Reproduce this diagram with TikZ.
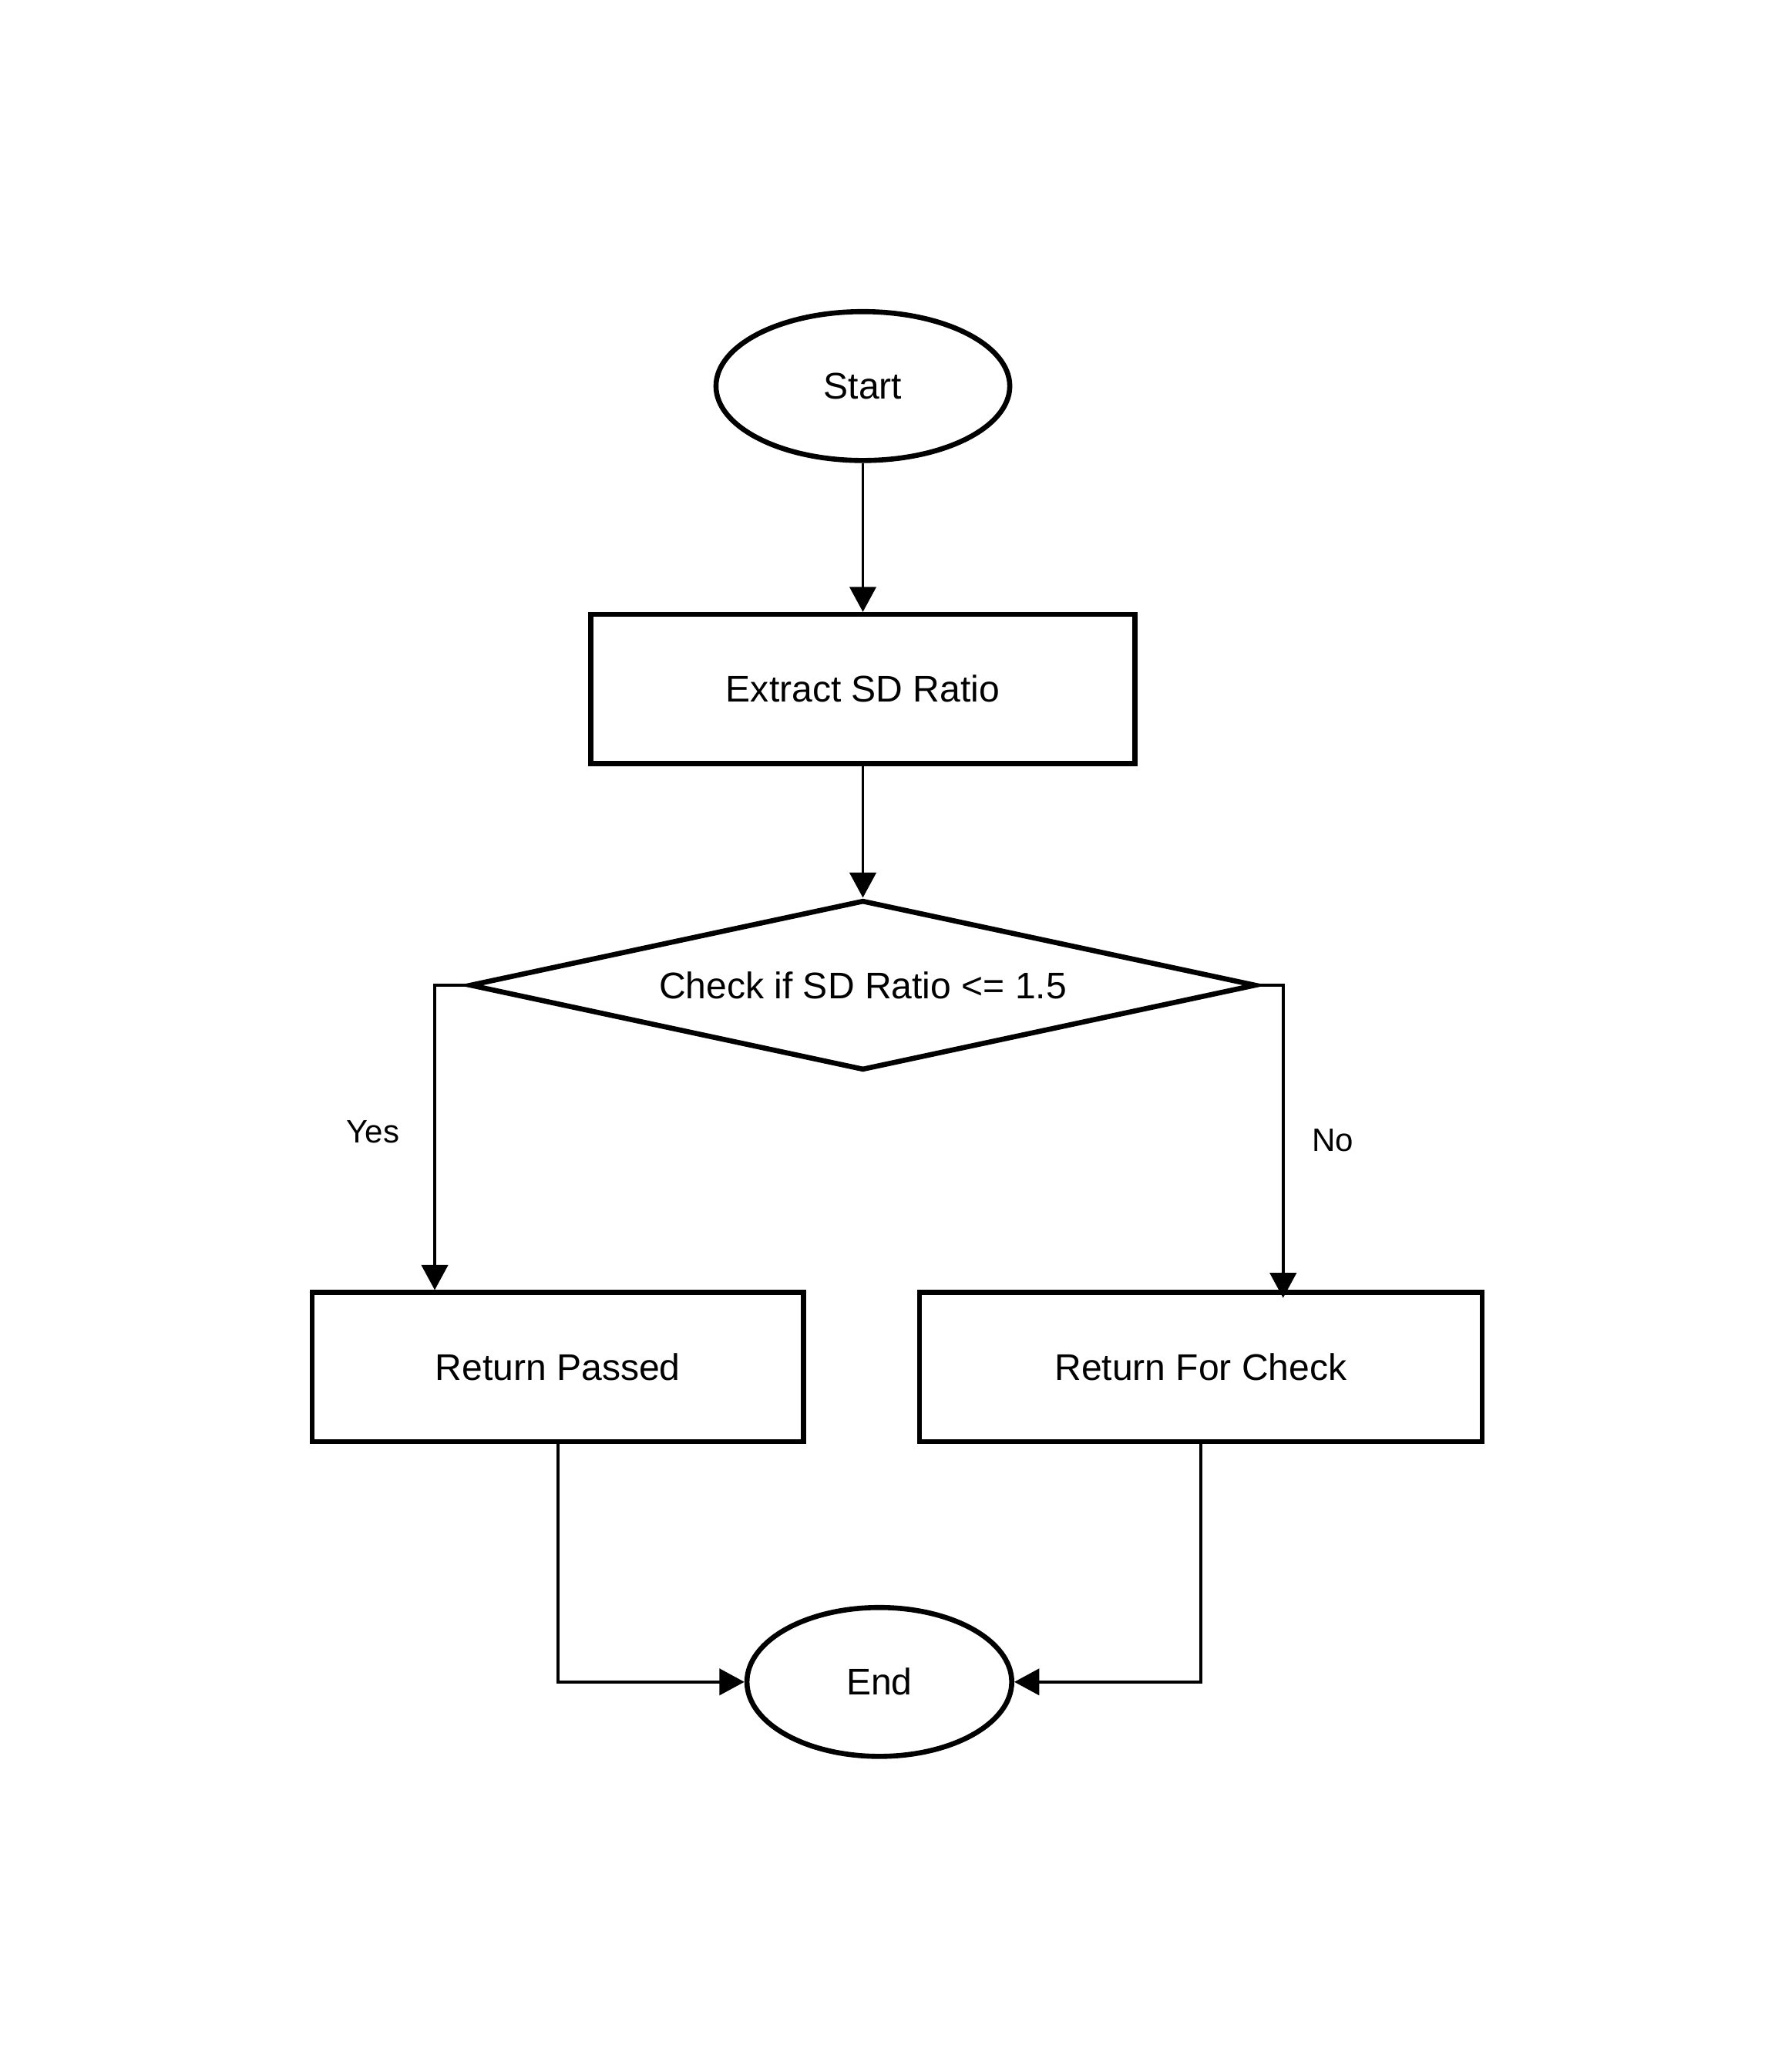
\documentclass[tikz,border=0pt]{standalone}
\usepackage{fontspec}
\setmainfont{Liberation Sans}
\usepackage{tikz}
\usetikzlibrary{shapes.geometric, arrows.meta, positioning, calc}
\tikzset{
    block/.style={rectangle, draw, line width=2.2pt, align=center, minimum width=8.26cm, minimum height=2.26cm, font=\fontsize{16}{19}\selectfont},
    arrow/.style={line width=1.2pt, -{Triangle[length=0.38cm, width=0.4cm]}},
    decision/.style={diamond, draw, line width=2.2pt, align=center, aspect=4.63, inner sep=0pt, minimum width=11.94cm, minimum height=2.58cm, font=\fontsize{16}{19}\selectfont},
    terminal/.style={draw, ellipse, line width=2.2pt, minimum width=4.46cm, minimum height=2.26cm, font=\fontsize{16}{19}\selectfont},
    answer/.style={font=\fontsize{14}{17}\selectfont}
}
\begin{document}
\begin{tikzpicture}
            \useasboundingbox (0,0) rectangle (27.2,-31.36);
            \node[terminal] (start) at (13.1,-5.86) {Start};
            \node[block, below=2.26cm of start] (extract) {Extract SD Ratio};
            \node[decision, below=2.0cm of extract] (check) {Check if SD Ratio <= 1.5};
            \node[block, minimum width=7.46cm] (passed) at (8.47,-20.75) {Return Passed};
            \node[block, minimum width=8.54cm] (forcheck) at (18.23,-20.75) {Return For Check};
            \node[terminal, minimum width=4.02cm] (end) at (13.35,-25.53) {End};

            \draw[arrow] (start) -- (extract);
            \draw[arrow] (extract) -- (check);
            \draw[arrow] (check.west) -| ([xshift=-1.87cm]passed.north)
                node[answer, pos=0.74, left=0.4cm] {Yes};
            \draw[arrow, shorten >=-0.12cm] (check.east) -| ([xshift=1.25cm]forcheck.north)
                node[answer, pos=0.755, right=0.3cm] {No};
            \draw[arrow] (passed.south) |- (end.west);
            \draw[arrow] (forcheck.south) |- (end.east);
        \end{tikzpicture}
\end{document}
